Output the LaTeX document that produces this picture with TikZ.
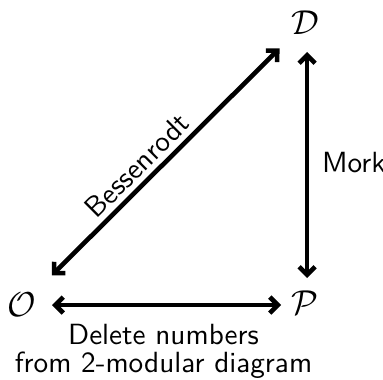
\documentclass[tikz,border=0pt]{standalone}
\usetikzlibrary{arrows.meta}
\begin{document}
\begin{tikzpicture}[x=0.5pt,y=-0.5pt,
  obj/.style={inner sep=0pt,font=\fontsize{16.5}{20}\selectfont},
  arr/.style={line width=2.3pt,{Straight Barb[length=4pt,width=8pt,line width=2.3pt]}-{Straight Barb[length=4pt,width=8pt,line width=2.3pt]}},
  lbl/.style={font=\sffamily\fontsize{10}{9.6}\selectfont,align=center,scale=1.46,transform shape}]
\useasboundingbox (0,0) rectangle (383,379);
\node[obj] (O) at (22,305) {$\mathcal{O}$};
\node[obj] (P) at (305,303) {$\mathcal{P}$};
\node[obj] (D) at (305,23) {$\mathcal{D}$};
\draw[arr,shorten <=21pt,shorten >=18pt] (O.center) -- (D.center)
  node[lbl,pos=0.45,sloped,above,inner sep=1.4pt] {Bessenrodt};
\draw[arr,shorten <=14.5pt,shorten >=12.5pt] ([xshift=1pt]D.center) -- ([xshift=1pt]P.center)
  node[lbl,midway,right,inner sep=4pt] {Mork};
\draw[arr,shorten <=15pt,shorten >=12pt] (O.center) -- (O.center -| P.center)
  node[lbl,midway,below,inner sep=5.3pt] {Delete numbers\\from 2-modular diagram};
\end{tikzpicture}
\end{document}
